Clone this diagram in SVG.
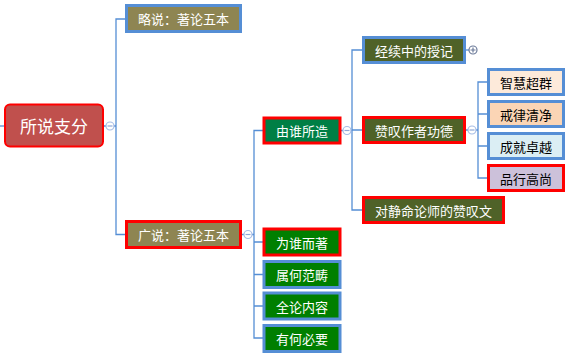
<svg xmlns="http://www.w3.org/2000/svg" width="576" height="355" viewBox="0 0 576 355">
<style>
.c{fill:none;stroke:#558ED5;stroke-width:1.3}
.t{font-family:"Noto Sans CJK SC","Noto Sans",sans-serif;font-size:13px;text-anchor:middle;dominant-baseline:central}
.w{fill:#fff}
.k{fill:#000}
.n{stroke-width:3}
.bl{stroke:#558ED5}
.rd{stroke:#FF0000}
.ol{fill:#8E8552}
.dg{fill:#4F6228}
.tg{fill:#007F45}
.gr{fill:#007F00}
.ci{fill:#fff;stroke:#A8BEE6;stroke-width:1.2}
.cm{stroke:#8FA8D8;stroke-width:1.2}
</style>
<rect width="576" height="355" fill="#fff"/>
<g id="connectors">
<path class="c" d="M0,126H5"/>
<path class="c" d="M103,126H106M114,126H116M125,19H116V234.5H125"/>
<path class="c" d="M242,234.5H244M252,234.5H254M263,130.5H254V338H263M254,242H263M254,274.5H263M254,306H263"/>
<path class="c" d="M341,130.5H343M351,130.5H352M362,50H352V210H362M352,130H362"/>
<path class="c" d="M466,130H468M476,130H478M487,82H478V178H487M478,114H487M478,146H487"/>
<path class="c" d="M466,50H469"/>
<circle class="ci" cx="110" cy="126" r="4"/><path class="cm" d="M107.5,126H112.5"/>
<circle class="ci" cx="248" cy="234.5" r="4"/><path class="cm" d="M245.5,234.5H250.5"/>
<circle class="ci" cx="347" cy="130.5" r="4"/><path class="cm" d="M344.5,130.5H349.5"/>
<circle class="ci" cx="472" cy="130" r="4"/><path class="cm" d="M469.5,130H474.5"/>
<circle cx="473" cy="50" r="4" fill="#fff" stroke="#6B7A99" stroke-width="1.2"/><path d="M470.5,50H475.5M473,47.5V52.5" stroke="#6B7A99" stroke-width="1.2"/>
</g>
<g id="root">
<rect x="5" y="104.5" width="98" height="42" rx="5" fill="#C0504D" stroke="#FF0000" stroke-width="2"/>
<text class="t w" x="54" y="125.5" style="font-size:17px">所说支分</text>
</g>
<g id="n-lue">
<rect class="n bl ol" x="126.5" y="5.5" width="114" height="26"/>
<text class="t w" x="183.5" y="18.5">略说：著论五本</text>
</g>
<g id="n-guang">
<rect class="n rd ol" x="126.5" y="221.5" width="114" height="26"/>
<text class="t w" x="183.5" y="234.5">广说：著论五本</text>
</g>
<g id="n-youshui">
<rect class="n rd tg" x="264" y="118" width="76" height="25"/>
<text class="t w" x="302" y="130.5">由谁所造</text>
</g>
<g id="n-jingxu">
<rect class="n bl dg" x="363.5" y="37.5" width="101" height="25"/>
<text class="t w" x="414" y="50">经续中的授记</text>
</g>
<g id="n-zantan">
<rect class="n rd dg" x="363.5" y="117.5" width="101" height="25"/>
<text class="t w" x="414" y="130">赞叹作者功德</text>
</g>
<g id="n-jingming">
<rect class="n rd dg" x="363.5" y="197.5" width="140" height="25"/>
<text class="t w" x="433.5" y="210">对静命论师的赞叹文</text>
</g>
<g id="n-zhihui">
<rect class="n bl" fill="#FDEADA" x="488.5" y="69.5" width="75" height="25"/>
<text class="t k" x="526" y="82">智慧超群</text>
</g>
<g id="n-jielv">
<rect class="n bl" fill="#FBD5B5" x="488.5" y="101.5" width="75" height="25"/>
<text class="t k" x="526" y="114">戒律清净</text>
</g>
<g id="n-chengjiu">
<rect class="n bl" fill="#DBEEF4" x="488.5" y="133.5" width="75" height="25"/>
<text class="t k" x="526" y="146">成就卓越</text>
</g>
<g id="n-pinxing">
<rect class="n rd" fill="#CCC1DA" x="488.5" y="165.5" width="75" height="25"/>
<text class="t k" x="526" y="178">品行高尚</text>
</g>
<g id="n-weishui">
<rect class="n rd gr" x="264" y="229" width="76" height="26"/>
<text class="t w" x="302" y="242">为谁而著</text>
</g>
<g id="n-shuhe">
<rect class="n bl gr" x="264" y="261.5" width="76" height="26"/>
<text class="t w" x="302" y="274.5">属何范畴</text>
</g>
<g id="n-quanlun">
<rect class="n bl gr" x="264" y="293" width="76" height="26"/>
<text class="t w" x="302" y="306">全论内容</text>
</g>
<g id="n-youhe">
<rect class="n bl gr" x="264" y="325.5" width="76" height="26"/>
<text class="t w" x="302" y="338.5">有何必要</text>
</g>
</svg>
